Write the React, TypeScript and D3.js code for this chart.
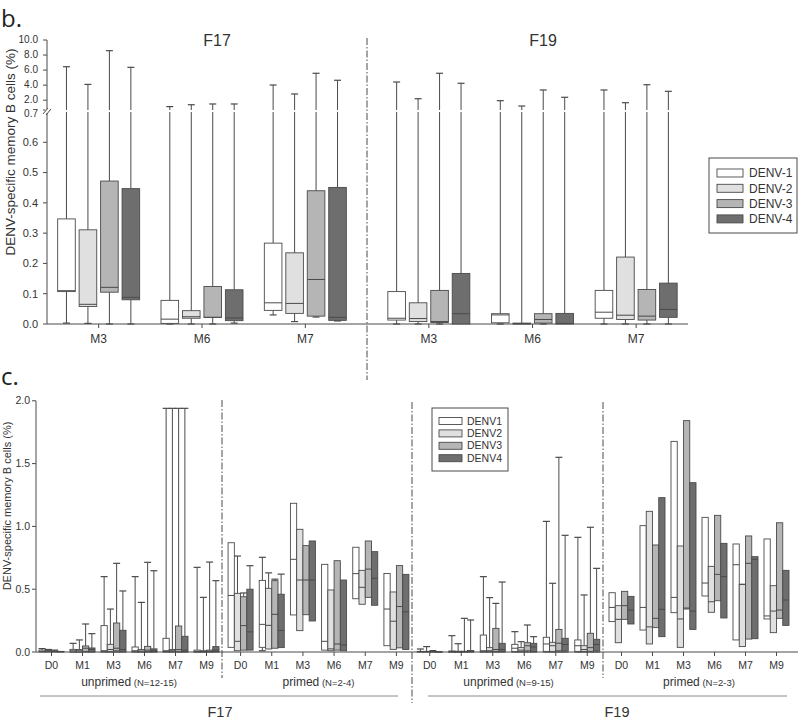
import * as d3 from "d3";

// [min, q1, median, q3, max]
type Box = [number, number, number, number, number];

// ── Panel b ──────────────────────────────────────────────────────────────
const groupsB = ["M3", "M6", "M7"];
const serotypesB = ["DENV-1", "DENV-2", "DENV-3", "DENV-4"];
const yTicksBLow = [0, 0.1, 0.2, 0.3, 0.4, 0.5, 0.6];
const yTicksBHigh = [0.7, 2, 4, 6, 8, 10];

const bF17: Box[][] = [
  [[0.003, 0.107, 0.11, 0.347, 6.45], [0.002, 0.058, 0.065, 0.311, 4.1], [0, 0.105, 0.121, 0.472, 8.58], [0, 0.08, 0.088, 0.447, 6.37]],
  [[0, 0.002, 0.016, 0.078, 1.15], [0, 0.019, 0.024, 0.044, 1.4], [0, 0.022, 0.022, 0.124, 1.5], [0.003, 0.011, 0.02, 0.113, 1.5]],
  [[0.03, 0.045, 0.07, 0.267, 4.02], [0.008, 0.035, 0.068, 0.235, 2.83], [0.023, 0.026, 0.147, 0.44, 5.58], [0.01, 0.012, 0.022, 0.451, 4.65]],
];
const bF19: Box[][] = [
  [[0, 0.013, 0.019, 0.107, 4.42], [0, 0.008, 0.018, 0.07, 2.2], [0, 0.005, 0.008, 0.111, 5.58], [0, 0, 0.034, 0.167, 4.25]],
  [[0, 0.004, 0.03, 0.034, 1.94], [0, 0, 0.001, 0.003, 1.23], [0, 0.003, 0.015, 0.034, 3.36], [0, 0, 0.002, 0.035, 2.39]],
  [[0, 0.019, 0.039, 0.111, 3.36], [0, 0.015, 0.029, 0.221, 1.67], [0, 0.013, 0.026, 0.114, 4.06], [0, 0.022, 0.048, 0.135, 3.18]],
];

// ── Panel c ──────────────────────────────────────────────────────────────
const groupsC = ["D0", "M1", "M3", "M6", "M7", "M9"];
const serotypesC = ["DENV1", "DENV2", "DENV3", "DENV4"];
const yTicksC = [0, 0.5, 1, 1.5, 2];

const cF17Unprimed: Box[][] = [
  [[0, 0, 0.005, 0.015, 0.027], [0, 0, 0.005, 0.012, 0.02], [0, 0, 0.004, 0.01, 0.015], [0, 0, 0.002, 0.005, 0.005]],
  [[0, 0.002, 0.01, 0.021, 0.069], [0, 0.002, 0.01, 0.02, 0.096], [0, 0.005, 0.03, 0.048, 0.223], [0, 0.003, 0.02, 0.032, 0.146]],
  [[0, 0.005, 0.01, 0.21, 0.6], [0, 0.005, 0.02, 0.061, 0.342], [0, 0.01, 0.03, 0.231, 0.706], [0, 0.005, 0.02, 0.173, 0.486]],
  [[0, 0.003, 0.01, 0.04, 0.6], [0, 0.002, 0.008, 0.02, 0.395], [0, 0.004, 0.015, 0.045, 0.714], [0, 0.003, 0.01, 0.025, 0.647]],
  [[0, 0.004, 0.01, 0.109, 1.94], [0, 0.003, 0.01, 0.02, 1.94], [0, 0.005, 0.02, 0.207, 1.94], [0, 0.004, 0.015, 0.125, 1.94]],
  [[0, 0.002, 0.005, 0.015, 0.674], [0, 0.002, 0.005, 0.01, 0.435], [0, 0.003, 0.006, 0.015, 0.716], [0, 0.005, 0.015, 0.043, 0.568]],
];
const cF17Primed: Box[][] = [
  [[0.037, 0.037, 0.45, 0.87, 0.87], [0.01, 0.01, 0.085, 0.467, 0.764], [0.015, 0.015, 0.21, 0.44, 0.47], [0.015, 0.015, 0.16, 0.5, 0.687]],
  [[0.01, 0.037, 0.22, 0.57, 0.754], [0.024, 0.024, 0.212, 0.507, 0.63], [0.03, 0.03, 0.3, 0.568, 0.58], [0.035, 0.035, 0.172, 0.46, 0.62]],
  [[0.295, 0.295, 0.738, 1.184, 1.184], [0.17, 0.17, 0.573, 0.977, 0.977], [0.297, 0.297, 0.573, 0.847, 0.847], [0.247, 0.247, 0.573, 0.884, 0.884]],
  [[0.015, 0.015, 0.085, 0.698, 0.698], [0.01, 0.01, 0.025, 0.494, 0.494], [0.015, 0.015, 0.064, 0.727, 0.727], [0.01, 0.01, 0.056, 0.573, 0.573]],
  [[0.424, 0.424, 0.624, 0.834, 0.834], [0.38, 0.38, 0.515, 0.65, 0.65], [0.435, 0.435, 0.66, 0.884, 0.884], [0.372, 0.372, 0.587, 0.799, 0.799]],
  [[0.05, 0.05, 0.342, 0.625, 0.625], [0.021, 0.021, 0.245, 0.478, 0.478], [0.033, 0.033, 0.362, 0.688, 0.688], [0.02, 0.02, 0.32, 0.618, 0.618]],
];
const cF19Unprimed: Box[][] = [
  [[0, 0, 0.002, 0.005, 0.024], [0, 0, 0.002, 0.005, 0.043], [0, 0, 0.002, 0.004, 0.011], [0, 0, 0.001, 0.003, 0.003]],
  [[0, 0.001, 0.004, 0.008, 0.13], [0, 0.001, 0.003, 0.006, 0.066], [0, 0.001, 0.003, 0.006, 0.268], [0, 0.002, 0.005, 0.012, 0.255]],
  [[0, 0.003, 0.01, 0.135, 0.6], [0, 0.003, 0.01, 0.035, 0.433], [0, 0.005, 0.02, 0.188, 0.387], [0, 0.005, 0.02, 0.069, 0.557]],
  [[0, 0.005, 0.03, 0.061, 0.162], [0, 0.005, 0.015, 0.035, 0.082], [0, 0.01, 0.05, 0.074, 0.215], [0, 0.005, 0.04, 0.069, 0.122]],
  [[0, 0.005, 0.064, 0.117, 1.04], [0, 0.005, 0.05, 0.077, 0.547], [0, 0.01, 0.07, 0.18, 1.55], [0, 0.01, 0.06, 0.109, 0.929]],
  [[0, 0.005, 0.05, 0.096, 0.913], [0, 0.005, 0.02, 0.05, 0.454], [0, 0.005, 0.035, 0.149, 0.993], [0, 0.01, 0.06, 0.101, 0.666]],
];
const cF19Primed: Box[][] = [
  [[0.242, 0.242, 0.355, 0.472, 0.472], [0.074, 0.074, 0.26, 0.369, 0.369], [0.26, 0.26, 0.369, 0.483, 0.483], [0.223, 0.223, 0.334, 0.443, 0.443]],
  [[0.175, 0.175, 0.355, 1.006, 1.006], [0.064, 0.064, 0.2, 1.12, 1.12], [0.194, 0.194, 0.268, 0.852, 0.852], [0.122, 0.122, 0.34, 1.229, 1.229]],
  [[0.313, 0.313, 0.435, 1.677, 1.677], [0.037, 0.037, 0.263, 0.844, 0.844], [0.342, 0.342, 0.35, 1.842, 1.842], [0.18, 0.18, 0.326, 1.348, 1.348]],
  [[0.446, 0.446, 0.549, 1.072, 1.072], [0.316, 0.316, 0.4, 0.682, 0.682], [0.408, 0.408, 0.618, 1.088, 1.088], [0.271, 0.271, 0.6, 0.865, 0.865]],
  [[0.096, 0.096, 0.695, 0.86, 0.86], [0.043, 0.043, 0.539, 0.539, 0.539], [0.103, 0.103, 0.706, 0.924, 0.924], [0.106, 0.106, 0.738, 0.759, 0.759]],
  [[0.263, 0.263, 0.287, 0.9, 0.9], [0.154, 0.154, 0.326, 0.528, 0.528], [0.268, 0.268, 0.334, 1.029, 1.029], [0.212, 0.212, 0.414, 0.65, 0.65]],
];

// ── Style ────────────────────────────────────────────────────────────────
const FILLS = ["#ffffff", "#e0e0e0", "#b5b5b5", "#6e6e6e"];
const INK = "#4a4a4a";
const TEXT = "#333";
const FONT = "'Liberation Sans', Arial, sans-serif";
const DASHDOT = "7 2 1.5 2";

interface BoxesProps {
  data: Box[][];
  groups: string[];
  x: d3.ScalePoint<string>;
  inner: d3.ScaleBand<number>;
  y: (v: number) => number;
  cap: number;
}

function Boxes({ data, groups, x, inner, y, cap }: BoxesProps) {
  const bw = inner.bandwidth();
  return (
    <g>
      {data.map((grp, gi) =>
        grp.map(([mn, q1, med, q3, mx], si) => {
          const x0 = (x(groups[gi]) ?? 0) + (inner(si) ?? 0);
          const cx = x0 + bw / 2;
          return (
            <g key={`${gi}-${si}`}>
              {mx > q3 && (
                <>
                  <line x1={cx} x2={cx} y1={y(q3)} y2={y(mx)} stroke={INK} strokeWidth={1} />
                  <line x1={cx - cap / 2} x2={cx + cap / 2} y1={y(mx)} y2={y(mx)} stroke={INK} strokeWidth={1.2} />
                </>
              )}
              {mn < q1 && (
                <>
                  <line x1={cx} x2={cx} y1={y(q1)} y2={y(mn)} stroke={INK} strokeWidth={1} />
                  <line x1={cx - cap / 2} x2={cx + cap / 2} y1={y(mn)} y2={y(mn)} stroke={INK} strokeWidth={1.2} />
                </>
              )}
              <rect
                x={x0}
                y={y(q3)}
                width={bw}
                height={Math.max(0.6, y(q1) - y(q3))}
                fill={FILLS[si]}
                stroke={INK}
                strokeWidth={0.9}
              />
              <line x1={x0} x2={x0 + bw} y1={y(med)} y2={y(med)} stroke={INK} strokeWidth={1} />
            </g>
          );
        })
      )}
    </g>
  );
}

export default function App() {
  // ── Panel b scales ──
  const bAxisX0 = 47, bAxisX1 = 688, bBase = 324;
  const yLow = d3.scaleLinear().domain([0, 0.7]).range([bBase, 112]);
  const yHigh = d3.scaleLinear().domain([0.7, 10]).range([110, 40]);
  const yB = (v: number) => (v <= 0.7 ? yLow(v) : yHigh(v));
  const xB17 = d3.scalePoint<string>().domain(groupsB).range([47, 357]).padding(0.5);
  const xB19 = d3.scalePoint<string>().domain(groupsB).range([377, 688]).padding(0.5);
  const innerB = d3.scaleBand<number>().domain([0, 1, 2, 3]).range([-41, 41]).paddingInner(0.18);
  const bSep = 367;

  // ── Panel c scales ──
  const cAxisX0 = 36, cBase = 652;
  const yC = d3.scaleLinear().domain([0, 2]).range([cBase, cBase - 251.2]);
  const xC = [
    d3.scalePoint<string>().domain(groupsC).range([36, 222]).padding(0.5),
    d3.scalePoint<string>().domain(groupsC).range([225, 412]).padding(0.5),
    d3.scalePoint<string>().domain(groupsC).range([414, 603]).padding(0.5),
    d3.scalePoint<string>().domain(groupsC).range([606, 792]).padding(0.5),
  ];
  const cData = [cF17Unprimed, cF17Primed, cF19Unprimed, cF19Primed];
  const innerC = d3.scaleBand<number>().domain([0, 1, 2, 3]).range([-12.5, 12.5]).paddingInner(0);
  const sectionLabels = [
    ["unprimed", "(N=12-15)"],
    ["primed", "(N=2-4)"],
    ["unprimed", "(N=9-15)"],
    ["primed", "(N=2-3)"],
  ];

  return (
    <svg
      width={800}
      height={721}
      style={{ position: "absolute", left: 0, top: 0, background: "#fff" }}
      fontFamily={FONT}
    >
      <rect width={800} height={721} fill="#fff" />

      {/* ─────────────── Panel b ─────────────── */}
      <text x={1} y={27} fontSize={24} fill="#222" fontFamily="'Open Sans', sans-serif">b.</text>
      <text x={217} y={46} fontSize={16} fill={TEXT} textAnchor="middle">F17</text>
      <text x={543} y={46} fontSize={16} fill={TEXT} textAnchor="middle">F19</text>
      <text
        transform={`translate(15,152) rotate(-90)`}
        fontSize={13.5}
        fill={TEXT}
        textAnchor="middle"
      >
        DENV-specific memory B cells (%)
      </text>

      {/* y axis */}
      <line x1={bAxisX0} x2={bAxisX0} y1={yHigh(10)} y2={bBase} stroke={INK} />
      {yTicksBLow.map((t) => (
        <g key={`bl${t}`}>
          <line x1={bAxisX0 - 4} x2={bAxisX0} y1={yLow(t)} y2={yLow(t)} stroke={INK} />
          <text x={bAxisX0 - 9} y={yLow(t)} dy="0.35em" fontSize={11} fill={TEXT} textAnchor="end">
            {t.toFixed(1)}
          </text>
        </g>
      ))}
      {yTicksBHigh.map((t) => (
        <g key={`bh${t}`}>
          <line x1={bAxisX0 - 4} x2={bAxisX0} y1={yHigh(t)} y2={yHigh(t)} stroke={INK} />
          <text
            x={bAxisX0 - 9}
            y={t === 0.7 ? yLow(t) + 1 : yHigh(t) - 0.5}
            dy="0.35em"
            fontSize={10}
            fill={TEXT}
            textAnchor="end"
          >
            {t.toFixed(1)}
          </text>
        </g>
      ))}

      {/* x axis */}
      <line x1={bAxisX0} x2={bAxisX1} y1={bBase} y2={bBase} stroke={INK} />
      {[xB17, xB19].map((sx, k) =>
        groupsB.map((g) => (
          <g key={`bx${k}${g}`}>
            <line x1={sx(g)} x2={sx(g)} y1={bBase} y2={bBase + 4} stroke={INK} />
            <text x={sx(g)} y={bBase + 19} fontSize={12} fill={TEXT} textAnchor="middle">{g}</text>
          </g>
        ))
      )}

      <Boxes data={bF17} groups={groupsB} x={xB17} inner={innerB} y={yB} cap={7} />
      <Boxes data={bF19} groups={groupsB} x={xB19} inner={innerB} y={yB} cap={7} />

      {/* axis break */}
      <line x1={bAxisX0 + 1} x2={bAxisX1} y1={111} y2={111} stroke="#fff" strokeWidth={2} />
      <line x1={bAxisX0} x2={bAxisX0} y1={109} y2={113} stroke="#fff" strokeWidth={3} />
      <line x1={bAxisX0 - 4} x2={bAxisX0 + 1} y1={114} y2={108} stroke={INK} />
      <line x1={bAxisX0 - 1} x2={bAxisX0 + 4} y1={115} y2={109} stroke={INK} />

      {/* separator */}
      <line x1={bSep} x2={bSep} y1={38} y2={380} stroke={INK} strokeDasharray={DASHDOT} />

      {/* legend b */}
      <rect x={709} y={158} width={88} height={75} fill="#fff" stroke={INK} />
      {serotypesB.map((s, i) => (
        <g key={s} transform={`translate(717,${173 + i * 15.3})`}>
          <rect x={0} y={-4} width={26} height={8} fill={FILLS[i]} stroke={INK} strokeWidth={0.9} />
          <text x={32} y={0} dy="0.35em" fontSize={12} fill={TEXT}>{s}</text>
        </g>
      ))}

      {/* ─────────────── Panel c ─────────────── */}
      <text x={1} y={385} fontSize={24} fill="#222" fontFamily="'Open Sans', sans-serif">c.</text>
      <text
        transform={`translate(11,506) rotate(-90)`}
        fontSize={11}
        fill={TEXT}
        textAnchor="middle"
      >
        DENV-specific memory B cells (%)
      </text>

      <line x1={cAxisX0} x2={cAxisX0} y1={yC(2)} y2={cBase} stroke={INK} />
      {yTicksC.map((t) => (
        <g key={`cy${t}`}>
          <line x1={cAxisX0 - 4} x2={cAxisX0} y1={yC(t)} y2={yC(t)} stroke={INK} />
          <text x={cAxisX0 - 6} y={yC(t)} dy="0.35em" fontSize={10.5} fill={TEXT} textAnchor="end">
            {t.toFixed(1)}
          </text>
        </g>
      ))}
      <line x1={cAxisX0} x2={798} y1={cBase} y2={cBase} stroke={INK} />

      {xC.map((sx, k) => (
        <g key={`cs${k}`}>
          {groupsC.map((g) => (
            <g key={g}>
              <line x1={sx(g)} x2={sx(g)} y1={cBase} y2={cBase + 4} stroke={INK} />
              <text x={sx(g)} y={cBase + 17} fontSize={10.5} fill={TEXT} textAnchor="middle">{g}</text>
            </g>
          ))}
          <text
            x={(sx.range()[0] + sx.range()[1]) / 2}
            y={cBase + 34}
            fontSize={12}
            fill={TEXT}
            textAnchor="middle"
          >
            {sectionLabels[k][0]}
            <tspan fontSize={9.5}>{` ${sectionLabels[k][1]}`}</tspan>
          </text>
          <Boxes data={cData[k]} groups={groupsC} x={sx} inner={innerC} y={yC} cap={7} />
        </g>
      ))}

      {/* separators c */}
      <line x1={222} x2={222} y1={400} y2={678} stroke={INK} strokeDasharray={DASHDOT} />
      <line x1={412} x2={412} y1={402} y2={703} stroke={INK} strokeDasharray={DASHDOT} />
      <line x1={603} x2={603} y1={402} y2={678} stroke={INK} strokeDasharray={DASHDOT} />

      {/* study lines */}
      <line x1={40} x2={398} y1={696} y2={696} stroke="#8a8a8a" />
      <line x1={428} x2={787} y1={696} y2={696} stroke="#8a8a8a" />
      <text x={220} y={717} fontSize={14.5} fill={TEXT} textAnchor="middle">F17</text>
      <text x={617} y={717} fontSize={14.5} fill={TEXT} textAnchor="middle">F19</text>

      {/* legend c */}
      <rect x={432} y={408} width={76} height={63} fill="#fff" stroke={INK} />
      {serotypesC.map((s, i) => (
        <g key={s} transform={`translate(439,${421 + i * 12.4})`}>
          <rect x={0} y={-3.5} width={23} height={7} fill={FILLS[i]} stroke={INK} strokeWidth={0.9} />
          <text x={28} y={0} dy="0.35em" fontSize={10.5} fill={TEXT}>{s}</text>
        </g>
      ))}
    </svg>
  );
}
